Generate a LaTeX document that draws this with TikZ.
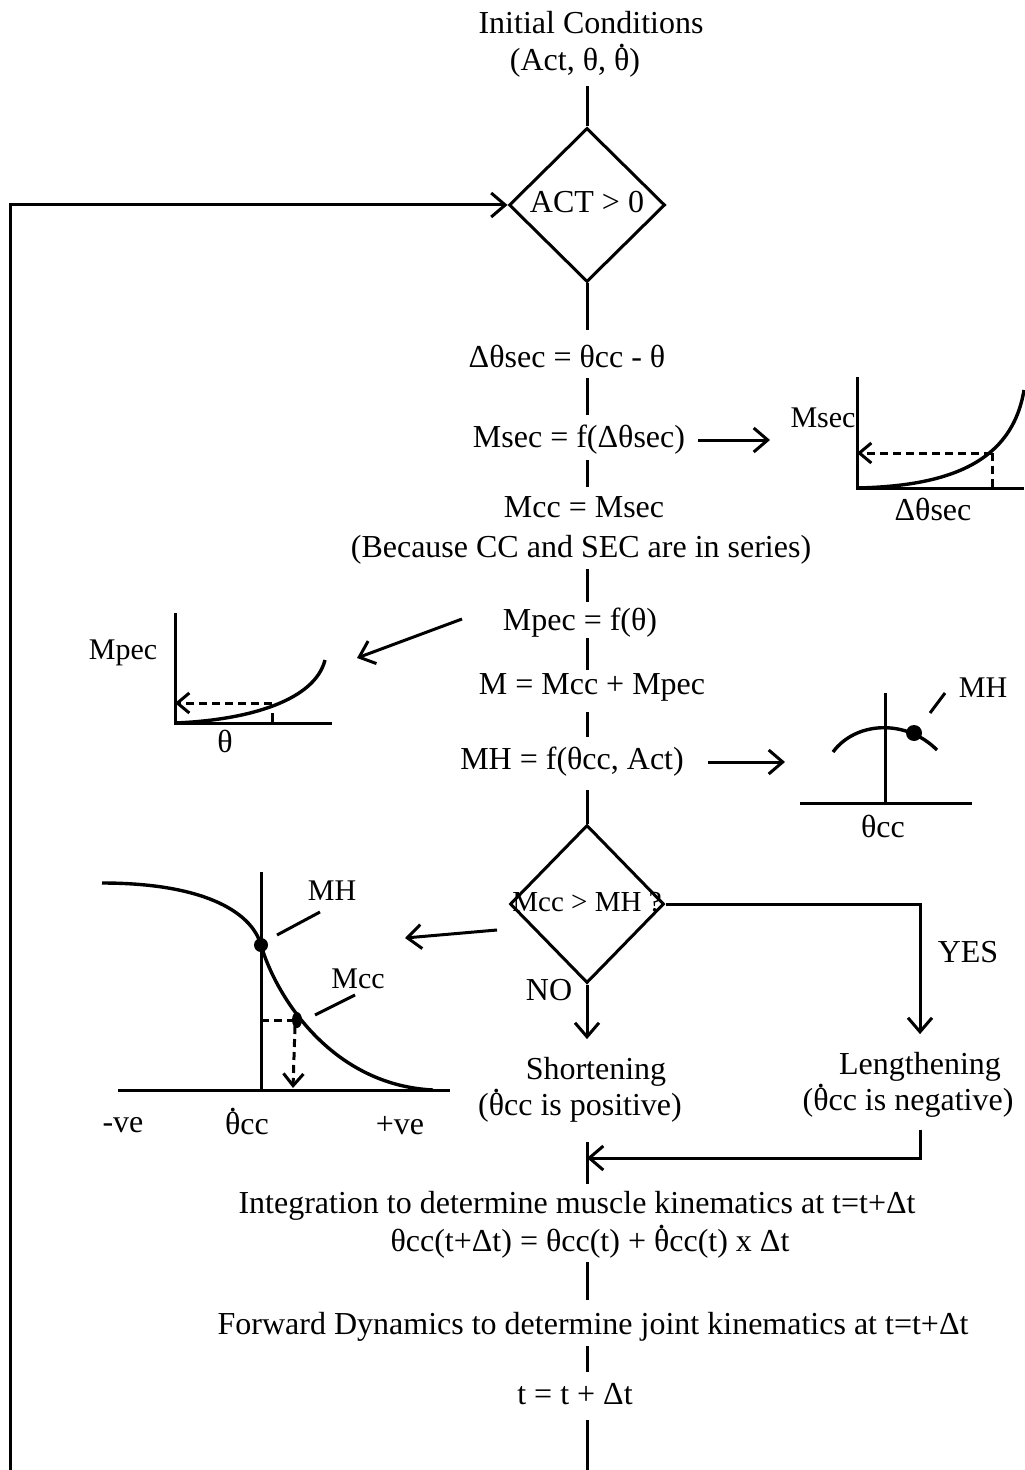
\documentclass[tikz,border=0pt]{standalone}
\usepackage{fontspec}
\setmainfont{Liberation Serif}
\usetikzlibrary{shapes.geometric,arrows.meta}
\newcommand\thd{\leavevmode\hbox{\ooalign{θ\cr\hidewidth\raisebox{0.71em}{.}\hidewidth\cr}}}
\begin{document}
\begin{tikzpicture}[x=0.5pt,y=-0.5pt,
  every node/.style={font=\fontsize{16}{19}\selectfont, inner sep=0pt, text height=11pt, text depth=3.5pt},
  ln/.style={line width=1.5pt},
  cv/.style={line width=1.7pt},
  arr/.style={ln,-{Straight Barb[length=7pt,width=12pt]}},
  darr/.style={ln,dash pattern=on 4pt off 2.5pt,-{Straight Barb[length=6pt,width=10pt]}},
  dsh/.style={ln,dash pattern=on 4pt off 2.5pt},
  dia/.style={draw,ln,line join=miter,shape=diamond,minimum width=78pt,minimum height=77pt},
  small/.style={font=\fontsize{15}{18}\selectfont}]
\fill[white] (0,0) rectangle (1024,1470);
\useasboundingbox (0,0) rectangle (1024,1470);

% ---------- main column ----------
\node (init1) at (591,26) {Initial Conditions};
\node (init2) at (575,63) {(Act, θ, \thd)};
\node[dia] (d1) at (587,205) {ACT > 0};
\node (t1) at (567,360) {Δθsec = θcc - θ};
\node (t2) at (579,440) {Msec = f(Δθsec)};
\node (t3) at (584,510) {Mcc = Msec};
\node (t4) at (581,550) {(Because CC and SEC are in series)};
\node (t5) at (580,623) {Mpec = f(θ)};
\node (t6) at (592,687) {M = Mcc + Mpec};
\node (t7) at (572,762) {MH = f(θcc, Act)};
\node[dia,minimum width=77pt,minimum height=79pt] (d2) at (587,904) {};
\node[font=\fontsize{14.5}{16}\selectfont] (d2t) at (d2.center) {Mcc > MH ?};
\node (no) at (549,993) {NO};
\node (yes) at (968,955) {YES};
\node (sh1) at (596,1072) {Shortening};
\node (sh2) at (580,1108) {(\thd cc is positive)};
\node (ln1) at (920,1067) {Lengthening};
\node (ln2) at (908,1103) {(\thd cc is negative)};
\node (int1) at (577,1206) {Integration to determine muscle kinematics at t=t+Δt};
\node (int2) at (590,1244) {θcc(t+Δt) = θcc(t) + \thd cc(t) x Δt};
\node (fwd) at (593,1327) {Forward Dynamics to determine joint kinematics at t=t+Δt};
\node (tt) at (575,1397) {t = t + Δt};

\draw[ln, shorten <=4pt] (init2.south -| d1) -- (d1.north);
\draw[ln, shorten >=7.5pt] (d1.south) -- (t1.north -| d1);
\draw[ln, shorten <=1.5pt, shorten >=5pt] (t1.south -| d1) -- (t2.north -| d1);
\draw[ln, shorten <=2.5pt, shorten >=4pt] (t2.south -| d1) -- (t3.north -| d1);
\draw[ln, shorten <=2pt, shorten >=3pt] (t4.south -| d1) -- (t5.north -| d1);
\draw[ln, shorten >=1pt] (t5.south -| d1) -- (t6.north -| d1);
\draw[ln, shorten <=5pt, shorten >=5pt] (t6.south -| d1) -- (t7.north -| d1);
\draw[ln, shorten <=6.5pt] (t7.south -| d1) -- (d2.north);
\draw[arr, shorten >=9pt] (d2.south) -- (sh1.north -| d2);
\draw[arr, shorten >=9pt] (d2.east) -| (ln1.north);
\coordinate (merge) at (587,1158);
\draw[arr, shorten <=6pt] (ln2.south -| ln1) |- (merge);
\draw[ln, shorten <=9.5pt, shorten >=3.5pt] (sh2.south -| d1) -- (int1.north -| d1);
\draw[ln, shorten <=1.5pt, shorten >=6pt] (int2.south -| d1) -- (fwd.north -| d1);
\draw[ln, shorten <=2pt, shorten >=5pt] (fwd.south -| d1) -- (tt.north -| d1);
\coordinate (bot) at (587,1470);
\draw[ln, shorten <=4pt] (tt.south -| d1) -- (bot);
\coordinate (loop) at (10,1470);
\draw[arr] (loop) |- (d1.west);

% ---------- side arrows ----------
\coordinate (a1e) at (770,440);
\draw[arr, shorten <=6.5pt] (t2.east) -- (a1e);
\coordinate (a2s) at (462,619);
\coordinate (a2e) at (357,658);
\draw[arr] (a2s) -- (a2e);
\coordinate (a3e) at (785,762);
\draw[arr, shorten <=12pt] (t7.east) -- (a3e);
\coordinate (a4s) at (497,930);
\coordinate (a4e) at (405,938);
\draw[arr] (a4s) -- (a4e);

% ---------- Msec graph ----------
\draw[ln] (857,377) -- (857,488) -- (1024,488);
\draw[cv] (857,488) .. controls (950,486) and (1012,462) .. (1024,390);
\draw[darr] (992,453) -- (857,453);
\draw[dsh] (992,453) -- (992,488);
\node[small] (msec) at (823,420) {Msec};
\node (dsec) at (933,513) {Δθsec};

% ---------- Mpec graph ----------
\draw[ln] (175,613) -- (175,723) -- (332,723);
\draw[cv] (175,723) .. controls (250,720) and (315,700) .. (325,660);
\draw[darr] (272,703) -- (175,703);
\draw[ln] (272,713) -- (272,723);
\node[small] (mpec) at (123,652) {Mpec};
\node (th) at (225,745) {θ};

% ---------- MH graph ----------
\draw[ln] (885,693) -- (885,803);
\draw[ln] (800,803) -- (972,803);
\draw[cv] (833,752) .. controls (855,722) and (905,718) .. (937,750);
\fill (914,733) circle (4pt);
\draw[ln] (930,713) -- (945,693);
\node[small] (mh) at (983,690) {MH};
\node (thcc) at (883,830) {θcc};

% ---------- force-velocity graph ----------
\draw[ln] (261,872) -- (261,1090);
\draw[ln] (118,1090) -- (450,1090);
\draw[cv] (102,883) .. controls (200,883) and (251,910) .. (261,945)
  .. controls (275,994) and (330,1085) .. (433,1090);
\fill (261,945) circle (3.5pt);
\fill (297,1020) ellipse (2.5pt and 4pt);
\draw[dsh] (261,1020) -- (297,1020);
\draw[darr] (295,1026) -- (293,1088);
\draw[ln] (277,935) -- (320,912);
\node[small] (mh2) at (332,893) {MH};
\draw[ln] (315,1015) -- (355,995);
\node[small] (mcc2) at (358,981) {Mcc};
\node (neg) at (123,1125) {-ve};
\node (thdcc) at (247,1127) {\thd cc};
\node (pos) at (400,1127) {+ve};
\end{tikzpicture}
\end{document}
